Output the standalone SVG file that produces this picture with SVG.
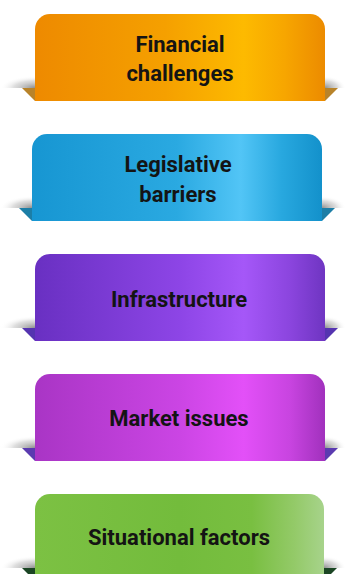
<svg xmlns="http://www.w3.org/2000/svg" width="346" height="574" viewBox="0 0 346 574">
  <style>
    .label { font-family: Roboto, "Liberation Sans", sans-serif; font-weight: 700; font-size: 22px; fill: #141414; text-anchor: middle; }
  </style>
  <defs>
    <radialGradient id="shL" cx="1" cy="1" r="1">
      <stop offset="0" stop-color="#7a7a7a" stop-opacity="0.85"/>
      <stop offset="0.6" stop-color="#b5b5b5" stop-opacity="0.45"/>
      <stop offset="1" stop-color="#ffffff" stop-opacity="0"/>
    </radialGradient>
    <radialGradient id="shR" cx="0" cy="1" r="1">
      <stop offset="0" stop-color="#7a7a7a" stop-opacity="0.85"/>
      <stop offset="0.6" stop-color="#b5b5b5" stop-opacity="0.45"/>
      <stop offset="1" stop-color="#ffffff" stop-opacity="0"/>
    </radialGradient>
    <linearGradient id="gOrange" x1="0" y1="0" x2="1" y2="0">
      <stop offset="0" stop-color="#EE8A00"/>
      <stop offset="0.45" stop-color="#F5A000"/>
      <stop offset="0.72" stop-color="#FDBA00"/>
      <stop offset="0.86" stop-color="#F7A600"/>
      <stop offset="1" stop-color="#EC8B00"/>
    </linearGradient>
    <linearGradient id="gBlue" x1="0" y1="0" x2="1" y2="0">
      <stop offset="0" stop-color="#1796D2"/>
      <stop offset="0.5" stop-color="#2AA9E1"/>
      <stop offset="0.72" stop-color="#52C5F6"/>
      <stop offset="0.86" stop-color="#28A8DF"/>
      <stop offset="1" stop-color="#1391CB"/>
    </linearGradient>
    <linearGradient id="gPurple" x1="0" y1="0" x2="1" y2="0">
      <stop offset="0" stop-color="#6930C2"/>
      <stop offset="0.5" stop-color="#8D45E6"/>
      <stop offset="0.72" stop-color="#A557F8"/>
      <stop offset="0.88" stop-color="#8B45DE"/>
      <stop offset="1" stop-color="#6F35C2"/>
    </linearGradient>
    <linearGradient id="gMagenta" x1="0" y1="0" x2="1" y2="0">
      <stop offset="0" stop-color="#A935C5"/>
      <stop offset="0.5" stop-color="#CB45E4"/>
      <stop offset="0.72" stop-color="#E350F8"/>
      <stop offset="0.88" stop-color="#C844E0"/>
      <stop offset="1" stop-color="#A131BD"/>
    </linearGradient>
    <linearGradient id="gGreen" x1="0" y1="0" x2="1" y2="0">
      <stop offset="0" stop-color="#7CC143"/>
      <stop offset="0.5" stop-color="#73BC3C"/>
      <stop offset="0.75" stop-color="#79BF41"/>
      <stop offset="0.9" stop-color="#94CA69"/>
      <stop offset="1" stop-color="#A7D38B"/>
    </linearGradient>
  </defs>

  <g id="node-financial">
    <rect x="0" y="76" width="35" height="12" fill="url(#shL)"/>
    <rect x="325" y="76" width="21" height="12" fill="url(#shR)"/>
    <polygon points="22,88 35,88 35,101" fill="#B8832A"/>
    <polygon points="325,88 338,88 325,101" fill="#B8832A"/>
    <path d="M35,101 V29 A15,15 0 0 1 50,14 H310 A15,15 0 0 1 325,29 V101 Z" fill="url(#gOrange)"/>
    <text class="label" x="180" y="52">Financial</text>
    <text class="label" x="180" y="81">challenges</text>
  </g>

  <g id="node-legislative">
    <rect x="0" y="196" width="32" height="12" fill="url(#shL)"/>
    <rect x="322" y="196" width="24" height="12" fill="url(#shR)"/>
    <polygon points="19,208 32,208 32,221" fill="#1C7EA6"/>
    <polygon points="322,208 335,208 322,221" fill="#1C7EA6"/>
    <path d="M32,221 V149 A15,15 0 0 1 47,134 H307 A15,15 0 0 1 322,149 V221 Z" fill="url(#gBlue)"/>
    <text class="label" x="178" y="172">Legislative</text>
    <text class="label" x="178" y="202">barriers</text>
  </g>

  <g id="node-infrastructure">
    <rect x="0" y="316" width="35" height="12" fill="url(#shL)"/>
    <rect x="325" y="316" width="21" height="12" fill="url(#shR)"/>
    <polygon points="22,328 35,328 35,341" fill="#5534B0"/>
    <polygon points="325,328 338,328 325,341" fill="#5534B0"/>
    <path d="M35,341 V269 A15,15 0 0 1 50,254 H310 A15,15 0 0 1 325,269 V341 Z" fill="url(#gPurple)"/>
    <text class="label" x="179" y="307">Infrastructure</text>
  </g>

  <g id="node-market">
    <rect x="0" y="436" width="35" height="12" fill="url(#shL)"/>
    <rect x="325" y="436" width="21" height="12" fill="url(#shR)"/>
    <polygon points="22,448 35,448 35,461" fill="#5B3BB0"/>
    <polygon points="325,448 338,448 325,461" fill="#5B3BB0"/>
    <path d="M35,461 V389 A15,15 0 0 1 50,374 H310 A15,15 0 0 1 325,389 V461 Z" fill="url(#gMagenta)"/>
    <text class="label" x="179" y="426">Market issues</text>
  </g>

  <g id="node-situational">
    <rect x="0" y="556" width="35" height="12" fill="url(#shL)"/>
    <rect x="324" y="556" width="22" height="12" fill="url(#shR)"/>
    <polygon points="22,568 35,568 35,581" fill="#1B4524"/>
    <polygon points="324,568 337,568 324,581" fill="#1B4524"/>
    <path d="M35,581 V509 A15,15 0 0 1 50,494 H309 A15,15 0 0 1 324,509 V581 Z" fill="url(#gGreen)"/>
    <text class="label" x="179" y="545">Situational factors</text>
  </g>

  <g id="connectors"/>
</svg>
